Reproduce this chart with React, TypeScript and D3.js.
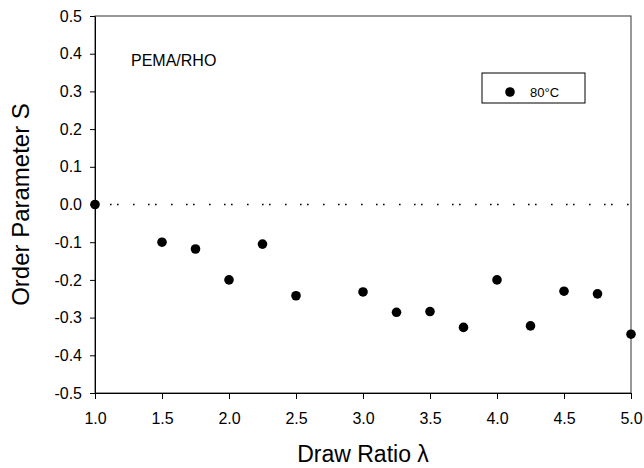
import * as d3 from 'd3';
import { useEffect, useRef } from 'react';

// draw ratio and order parameter values
const drawRatio = [1.0, 1.5, 1.75, 2.0, 2.25, 2.5, 3.0, 3.25, 3.5, 3.75, 4.0, 4.25, 4.5, 4.75, 5.0];
const orderParam = [0.0, -0.1, -0.118, -0.2, -0.105, -0.242, -0.232, -0.286, -0.284, -0.326, -0.2, -0.322, -0.23, -0.237, -0.344];
const xTicks = [1.0, 1.5, 2.0, 2.5, 3.0, 3.5, 4.0, 4.5, 5.0];
const yTicks = [0.5, 0.4, 0.3, 0.2, 0.1, 0.0, -0.1, -0.2, -0.3, -0.4, -0.5];
const seriesLabel = '80°C';

function App() {
  const chartRef = useRef<SVGSVGElement>(null);

  const width = 644;
  const height = 468;
  const margin = { top: 16, right: 13, bottom: 75, left: 95 };

  useEffect(() => {
    const root = d3.select(chartRef.current);
    root.selectAll('*').remove();

    const w = width - margin.left - margin.right;
    const h = height - margin.top - margin.bottom;
    const font = 'Liberation Sans, Arial, sans-serif';
    const fmt = (d: number) => d.toFixed(1); // plain hyphen minus like the original

    const svg = root
      .append('g')
      .attr('transform', `translate(${margin.left},${margin.top})`);

    const x = d3.scaleLinear().domain([1, 5]).range([0, w]);
    const y = d3.scaleLinear().domain([-0.5, 0.5]).range([h, 0]);

    // frame
    svg
      .append('rect')
      .attr('width', w)
      .attr('height', h)
      .attr('fill', 'none')
      .attr('stroke', '#333')
      .attr('stroke-width', 1);

    // x axis
    const xAxis = svg
      .append('g')
      .attr('transform', `translate(0,${h})`)
      // @ts-expect-error tickFormat typing
      .call(d3.axisBottom(x).tickValues(xTicks).tickSize(6).tickSizeOuter(0).tickFormat(fmt));
    xAxis.select('.domain').attr('stroke', '#000');
    xAxis
      .selectAll('text')
      .attr('font-family', font)
      .attr('font-size', 16)
      .attr('fill', '#000')
      .attr('y', 31)
      .attr('dy', 0);

    // y axis
    const yAxis = svg
      .append('g')
      // @ts-expect-error tickFormat typing
      .call(d3.axisLeft(y).tickValues(yTicks).tickSize(5).tickSizeOuter(0).tickFormat(fmt));
    yAxis.select('.domain').attr('stroke', '#000');
    yAxis
      .selectAll('text')
      .attr('font-family', font)
      .attr('font-size', 16)
      .attr('fill', '#000')
      .attr('x', -13);

    // zero reference line
    svg
      .append('line')
      .attr('x1', 0)
      .attr('x2', w)
      .attr('y1', y(0))
      .attr('y2', y(0))
      .attr('stroke', '#000')
      .attr('stroke-width', 1.6)
      .attr('stroke-dasharray', '1.6,13.4,1.6,5.4,1.6,14.4');

    // axis titles
    svg
      .append('text')
      .attr('x', w / 2)
      .attr('y', h + 69)
      .attr('text-anchor', 'middle')
      .attr('font-family', font)
      .attr('font-size', 23)
      .text('Draw Ratio λ');

    svg
      .append('text')
      .attr('transform', 'rotate(-90)')
      .attr('x', -h / 2)
      .attr('y', -66)
      .attr('text-anchor', 'middle')
      .attr('font-family', font)
      .attr('font-size', 24)
      .text('Order Parameter S');

    // sample label
    svg
      .append('text')
      .attr('x', 36)
      .attr('y', 50)
      .attr('font-family', font)
      .attr('font-size', 16)
      .text('PEMA/RHO');

    // legend
    const legend = svg.append('g').attr('transform', `translate(${w - 149},57)`);
    legend
      .append('rect')
      .attr('width', 103)
      .attr('height', 30)
      .attr('fill', '#fff')
      .attr('stroke', '#000')
      .attr('stroke-width', 1);
    legend.append('circle').attr('cx', 28).attr('cy', 19).attr('r', 4.8).attr('fill', '#000');
    legend
      .append('text')
      .attr('x', 48)
      .attr('y', 24)
      .attr('font-family', font)
      .attr('font-size', 13)
      .text(seriesLabel);

    // points
    svg
      .selectAll('.pt')
      .data(drawRatio)
      .enter()
      .append('circle')
      .attr('class', 'pt')
      .attr('cx', (d) => x(d))
      .attr('cy', (_d, i) => y(orderParam[i]))
      .attr('r', 4.8)
      .attr('fill', '#000');
  }, []);

  return (
    <svg
      ref={chartRef}
      width={width}
      height={height}
      style={{ position: 'absolute', left: 0, top: 0, background: '#fff' }}
    />
  );
}

export default App;
